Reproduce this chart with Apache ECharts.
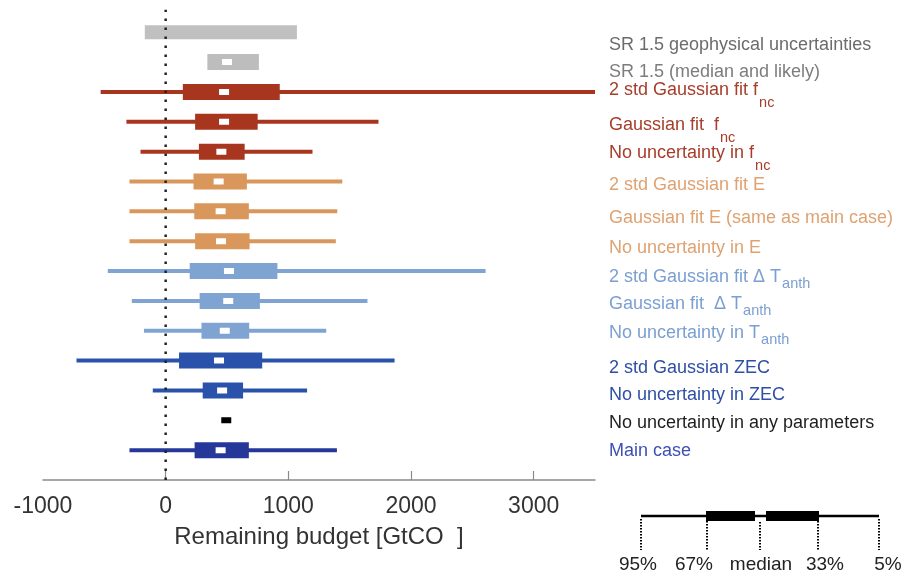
<!DOCTYPE html>
<html>
<head>
<meta charset="utf-8">
<script src="https://cdn.jsdelivr.net/npm/echarts@6/dist/echarts.min.js"></script>
<style>
html,body{margin:0;padding:0;background:#fff;}
#chart{width:905px;height:574px;}
</style>
</head>
<body>
<div id="chart"></div>
<script>
// ---- data (top row first) ----
const categories = [
  'SR 1.5 geophysical uncertainties',
  'SR 1.5 (median and likely)',
  '2 std Gaussian fit fnc',
  'Gaussian fit  fnc',
  'No uncertainty in fnc',
  '2 std Gaussian fit E',
  'Gaussian fit E (same as main case)',
  'No uncertainty in E',
  '2 std Gaussian fit Δ Tanth',
  'Gaussian fit  Δ Tanth',
  'No uncertainty in Tanth',
  '2 std Gaussian ZEC',
  'No uncertainty in ZEC',
  'No uncertainty in any parameters',
  'Main case'
];
// percentiles of remaining budget [GtCO2]
const p95    = [null, null, -530, -320, -205, -295, -295, -295, -472, -276, -177, -727, -105, null, -295];
const p67    = [-170,  340,  140,  240,  271,  227,  233,  240,  196,  277,  292,  109,  302, null,  236];
const median = [null,  500,  476,  476,  454,  432,  448,  451,  516,  510,  482,  435,  460,  494,  448];
const p33    = [1070,  760,  930,  750,  644,  662,  678,  684,  911,  768,  681,  787,  631, null,  678];
const p5     = [null, null, 3500, 1735, 1197, 1440, 1399, 1387, 2608, 1645, 1309, 1866, 1153, null, 1396];
const xTickLabels = [-1000, 0, 1000, 2000, 3000];
const xTickMarks = [0, 1000, 2000, 3000];

// ---- styles ----
const barColors = ['#c0c0c0','#bdbdbd','#a8361f','#a8361f','#a8361f','#d9975b','#d9975b','#d9975b',
  '#80a4d2','#80a4d2','#80a4d2','#2a52ab','#2a52ab','#000000','#26379a'];
const textColors = ['#6c6c6c','#7d7d7d','#a63e2b','#a63e2b','#a63e2b','#dfa271','#dfa271','#dfa271',
  '#7b9fd2','#7b9fd2','#7b9fd2','#2f4fa6','#2f4fa6','#1e1e1e','#3d50b5'];
const boxH = [14,16,16,16,16,16,16,16,16,16,16,16,16,16,16];
const labelY = [45,72,90,125,153,185,218,248,277,304,333,368,395,423,451];
// rich label texts (subscripts)
const richLabels = [
  'SR 1.5 geophysical uncertainties',
  'SR 1.5 (median and likely)',
  '2 std Gaussian fit f{nc|nc}',
  'Gaussian fit  f{nc|nc}',
  'No uncertainty in f{nc|nc}',
  '2 std Gaussian fit E',
  'Gaussian fit E (same as main case)',
  'No uncertainty in E',
  '2 std Gaussian fit \u0394 T{an|anth}',
  'Gaussian fit  \u0394 T{an|anth}',
  'No uncertainty in T{an|anth}',
  '2 std Gaussian ZEC',
  'No uncertainty in ZEC',
  'No uncertainty in any parameters',
  'Main case'
];

const N = categories.length;
const data = categories.map((c, i) => [N - i, p95[i], p67[i], median[i], p33[i], p5[i]]);

function ok(v){ return v != null && !isNaN(v); }

const FONT = 'Liberation Sans, Arial, Helvetica, sans-serif';

const chart = echarts.init(document.getElementById('chart'), null, {renderer:'canvas'});

const graphics = [];
richLabels.forEach((t, i) => {
  graphics.push({
    type: 'text', x: 609, y: labelY[i], z: 10,
    style: {
      text: t, fill: textColors[i], font: '18px ' + FONT,
      align: 'left', verticalAlign: 'middle',
      rich: {
        nc: {fontSize: 14.5, fontFamily: FONT, fill: textColors[i], padding: [26,0,0,1]},
        an: {fontSize: 14.5, fontFamily: FONT, fill: textColors[i], padding: [14,0,0,1]}
      }
    }
  });
});

// legend key (bottom right)
const legY = 516;
graphics.push({type:'line', shape:{x1:641,y1:legY,x2:879,y2:legY}, style:{stroke:'#000',lineWidth:2.5}});
graphics.push({type:'rect', shape:{x:706,y:legY-5,width:49,height:10}, style:{fill:'#000'}});
graphics.push({type:'rect', shape:{x:766,y:legY-5,width:53,height:10}, style:{fill:'#000'}});
[[641,519],[707,521],[760,522],[818,521],[879,519]].forEach(p => {
  graphics.push({type:'line', shape:{x1:p[0],y1:p[1],x2:p[0],y2:550},
    style:{stroke:'#000',lineWidth:2,lineDash:[1.5,1.5]}});
});
[['95%',638],['67%',694],['median',761],['33%',825],['5%',888]].forEach(a => {
  graphics.push({type:'text', x:a[1], y:565, style:{text:a[0], fill:'#222', font:'19px ' + FONT,
    align:'center', verticalAlign:'middle'}});
});

const option = {
  backgroundColor: '#fff',
  animation: false,
  grid: {left: 43, right: 310, top: 2.4, bottom: 94},
  xAxis: {
    type: 'value', min: -1000, max: 3500, interval: 1000,
    splitLine: {show: false},
    axisLine: {show: true, onZero: false, lineStyle: {color: '#8a8a8a', width: 1.5}},
    axisTick: {show: true, inside: true, length: 9, customValues: xTickMarks,
      lineStyle: {color: '#8a8a8a', width: 1.2}},
    axisLabel: {
      fontSize: 23, color: '#333', margin: 15, fontFamily: FONT,
      customValues: xTickLabels,
      formatter: v => String(v)
    },
    name: 'Remaining budget [GtCO  ]', nameLocation: 'middle', nameGap: 45,
    nameTextStyle: {fontSize: 24, color: '#333', fontFamily: FONT}
  },
  yAxis: {type: 'value', min: 0, max: 16, show: false},
  series: [
    {
      type: 'custom', clip: true,
      dimensions: ['row','p95','p67','median','p33','p5'],
      encode: {x: [1,2,3,4,5], y: 0},
      data: data,
      renderItem: function (params, api) {
        const i = params.dataIndex;
        const y = api.value(0);
        const lo = api.value(1), q1 = api.value(2), md = api.value(3), q3 = api.value(4), hi = api.value(5);
        const col = barColors[i];
        const ch = [];
        if (ok(lo) && ok(hi)) {
          const a = api.coord([lo, y]), b = api.coord([hi, y]);
          ch.push({type:'rect', shape:{x:a[0], y:a[1]-2, width:b[0]-a[0], height:4}, style:{fill:col}});
        }
        const hasBox = ok(q1) && ok(q3);
        if (hasBox) {
          const a = api.coord([q1, y]), b = api.coord([q3, y]);
          const h = boxH[i];
          ch.push({type:'rect', shape:{x:a[0], y:a[1]-h/2, width:b[0]-a[0], height:h}, style:{fill:col}});
        }
        if (ok(md)) {
          const m = api.coord([md, y]);
          ch.push({type:'rect', shape:{x:m[0]-5, y:m[1]-3, width:10, height:6},
            style:{fill: hasBox ? '#ffffff' : col}});
        }
        return {type:'group', children: ch};
      },
      z: 2
    },
    {
      type: 'line', data: [[0,0],[0,15.75]], symbol: 'none', silent: true, z: 5,
      lineStyle: {color:'#222', width: 2.5, type: [2.5, 6.5], cap: 'butt'}
    }
  ],
  graphic: graphics
};
chart.setOption(option);
</script>
</body>
</html>
